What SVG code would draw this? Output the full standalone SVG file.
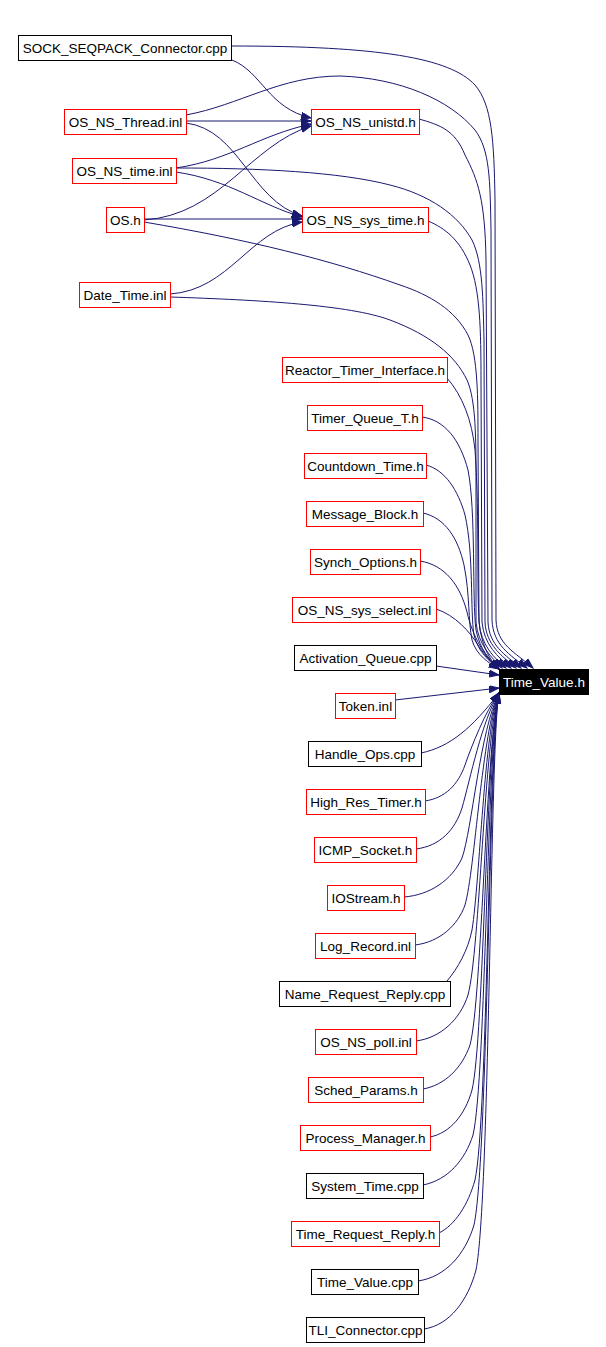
<svg xmlns="http://www.w3.org/2000/svg" width="606" height="1347" viewBox="0 0 606 1347">
<style>
.n rect{fill:#fff;stroke-width:1}
.r rect{stroke:#ff0000}
.b rect{stroke:#000}
.n text{font-family:"Liberation Sans",Arial,sans-serif;font-size:13.5px;text-anchor:middle;fill:#000}
.t rect{fill:#000;stroke:#000}
.t text{fill:#fff}
#edges path{fill:none;stroke:#191970;stroke-width:1;marker-end:url(#ah)}
</style>
<defs>
<marker id="ah" markerUnits="userSpaceOnUse" markerWidth="11" markerHeight="8" refX="10" refY="3.5" orient="auto">
<path d="M0,0 L10,3.5 L0,7 z" fill="#191970" stroke="#191970"/>
</marker>
</defs>
<rect width="606" height="1347" fill="#fff"/>
<g id="edges">
<path d="M232,60 C262,72 268,108 311,118"/>
<path d="M186,121 L311,121"/>
<path d="M176,168 C230,160 260,135 311,124"/>
<path d="M144,220 C220,215 250,145 311,126"/>
<path d="M186,123 C240,130 250,200 302,216"/>
<path d="M176,172 C230,180 260,205 302,217"/>
<path d="M144,219 L302,219"/>
<path d="M170,294 C230,290 250,230 302,222"/>
<path d="M231,46 C380,46 450,58 475,85 C492,105 494,140 495,200 L496,620 C497,645 515,652 533,668"/>
<path d="M186,115 C240,105 280,76 340,76 C400,78 450,100 475,130 C490,150 490,180 491,230 L492,620 C493,645 510,655 527,668"/>
<path d="M419,119 C440,125 455,130 465,155 C478,180 485,200 486,260 L488,622 C489,645 505,655 521,668"/>
<path d="M176,168 C260,168 340,172 390,185 C430,195 458,215 472,240 C483,262 483,300 484,340 L485,622 C486,645 502,656 516,668"/>
<path d="M428,221 C445,228 460,240 470,265 C480,290 481,330 481,380 L482,622 C484,645 498,657 511,668"/>
<path d="M144,222 C250,240 330,260 400,285 C430,295 455,310 468,335 C478,355 478,400 478,440 L479,622 C481,645 494,658 506,668"/>
<path d="M170,297 C260,300 350,305 390,320 C430,335 455,355 467,380 C476,400 476,440 476,480 L476,622 C478,645 492,658 502,668"/>
<path d="M447,378 C462,395 472,420 475,450 C480,520 476,600 480,630 C484,650 490,660 499,669"/>
<path d="M422,417 C445,420 460,440 468,470 C476,510 472,600 476,630 C480,650 490,660 499,669"/>
<path d="M426,465 C445,470 458,490 465,515 C474,555 470,610 474,635 C478,652 490,662 499,669"/>
<path d="M423,513 C445,518 458,538 464,565 C470,595 468,620 472,640 C476,655 490,664 499,669"/>
<path d="M420,561 C445,565 460,585 467,612 C472,635 485,658 499,669"/>
<path d="M436,609 C455,615 470,632 478,645 C485,656 492,663 499,669"/>
<path d="M436,666 L499,675"/>
<path d="M395,700 L499,688"/>
<path d="M421,753 C450,747 472,728 499,693"/>
<path d="M425,801 C445,798 458,785 465,765 C472,745 485,712 499,693"/>
<path d="M416,849 C440,846 455,830 462,808 C470,780 482,720 499,693"/>
<path d="M404,897 C430,895 452,880 462,858 C472,830 480,730 499,693"/>
<path d="M415,945 C440,942 458,925 465,905 C475,870 482,730 499,693"/>
<path d="M447,981 C458,968 468,950 472,930 C480,880 484,730 499,693"/>
<path d="M416,1041 C440,1038 460,1020 468,995 C480,950 484,740 499,693"/>
<path d="M423,1089 C445,1085 462,1068 470,1045 C482,1000 486,740 499,693"/>
<path d="M430,1137 C450,1133 465,1115 472,1090 C484,1040 486,740 499,693"/>
<path d="M423,1185 C448,1180 465,1160 473,1135 C486,1080 487,740 499,693"/>
<path d="M439,1233 C455,1225 468,1205 475,1180 C488,1120 488,740 499,693"/>
<path d="M418,1281 C445,1277 465,1255 474,1225 C488,1160 489,740 499,693"/>
<path d="M424,1329 C450,1325 468,1300 476,1270 C490,1200 490,740 499,693"/>
</g>
<g id="n_sock" class="n b"><rect x="18.5" y="35.5" width="213" height="25"/><text x="125" y="52.5">SOCK_SEQPACK_Connector.cpp</text></g>
<g id="n_thread" class="n r"><rect x="64.5" y="109.5" width="122" height="25"/><text x="125.5" y="126.5">OS_NS_Thread.inl</text></g>
<g id="n_time" class="n r"><rect x="72.5" y="158.5" width="104" height="25"/><text x="124.5" y="175.5">OS_NS_time.inl</text></g>
<g id="n_os" class="n r"><rect x="106.5" y="207.5" width="38" height="25"/><text x="125.5" y="224.5">OS.h</text></g>
<g id="n_date" class="n r"><rect x="79.5" y="282.5" width="91" height="25"/><text x="125" y="299.5">Date_Time.inl</text></g>
<g id="n_unistd" class="n r"><rect x="311.5" y="109.5" width="108" height="25"/><text x="365.5" y="126.5">OS_NS_unistd.h</text></g>
<g id="n_systime" class="n r"><rect x="302.5" y="207.5" width="126" height="25"/><text x="365.5" y="224.5">OS_NS_sys_time.h</text></g>
<g id="n_reactor" class="n r"><rect x="282.5" y="357.5" width="165" height="25"/><text x="365" y="374.5">Reactor_Timer_Interface.h</text></g>
<g id="n_tq" class="n r"><rect x="307.5" y="405.5" width="115" height="25"/><text x="365" y="422.5">Timer_Queue_T.h</text></g>
<g id="n_cd" class="n r"><rect x="304.5" y="453.5" width="122" height="25"/><text x="365.5" y="470.5">Countdown_Time.h</text></g>
<g id="n_mb" class="n r"><rect x="306.5" y="501.5" width="117" height="25"/><text x="365" y="518.5">Message_Block.h</text></g>
<g id="n_so" class="n r"><rect x="310.5" y="549.5" width="110" height="25"/><text x="365.5" y="566.5">Synch_Options.h</text></g>
<g id="n_sel" class="n r"><rect x="292.5" y="597.5" width="144" height="25"/><text x="364.5" y="614.5">OS_NS_sys_select.inl</text></g>
<g id="n_aq" class="n b"><rect x="294.5" y="645.5" width="142" height="25"/><text x="365.5" y="662.5">Activation_Queue.cpp</text></g>
<g id="n_tok" class="n r"><rect x="335.5" y="693.5" width="60" height="25"/><text x="365.5" y="710.5">Token.inl</text></g>
<g id="n_tv" class="n t"><rect x="499.5" y="669.5" width="89" height="25"/><text x="544" y="686.5">Time_Value.h</text></g>
<g id="n_ho" class="n b"><rect x="308.5" y="741.5" width="113" height="25"/><text x="365" y="758.5">Handle_Ops.cpp</text></g>
<g id="n_hrt" class="n r"><rect x="306.5" y="789.5" width="119" height="25"/><text x="366" y="806.5">High_Res_Timer.h</text></g>
<g id="n_icmp" class="n r"><rect x="314.5" y="837.5" width="102" height="25"/><text x="365.5" y="854.5">ICMP_Socket.h</text></g>
<g id="n_ios" class="n r"><rect x="327.5" y="885.5" width="77" height="25"/><text x="366" y="902.5">IOStream.h</text></g>
<g id="n_log" class="n r"><rect x="315.5" y="933.5" width="100" height="25"/><text x="365.5" y="950.5">Log_Record.inl</text></g>
<g id="n_nrr" class="n b"><rect x="279.5" y="981.5" width="171" height="25"/><text x="365" y="998.5">Name_Request_Reply.cpp</text></g>
<g id="n_poll" class="n r"><rect x="315.5" y="1029.5" width="101" height="25"/><text x="366" y="1046.5">OS_NS_poll.inl</text></g>
<g id="n_sched" class="n r"><rect x="308.5" y="1077.5" width="115" height="25"/><text x="366" y="1094.5">Sched_Params.h</text></g>
<g id="n_pm" class="n r"><rect x="300.5" y="1125.5" width="130" height="25"/><text x="365.5" y="1142.5">Process_Manager.h</text></g>
<g id="n_st" class="n b"><rect x="306.5" y="1173.5" width="117" height="25"/><text x="365" y="1190.5">System_Time.cpp</text></g>
<g id="n_trr" class="n r"><rect x="291.5" y="1221.5" width="148" height="25"/><text x="365.5" y="1238.5">Time_Request_Reply.h</text></g>
<g id="n_tvc" class="n b"><rect x="311.5" y="1269.5" width="107" height="25"/><text x="365" y="1286.5">Time_Value.cpp</text></g>
<g id="n_tli" class="n b"><rect x="306.5" y="1317.5" width="118" height="25"/><text x="365.5" y="1334.5">TLI_Connector.cpp</text></g>
</svg>
